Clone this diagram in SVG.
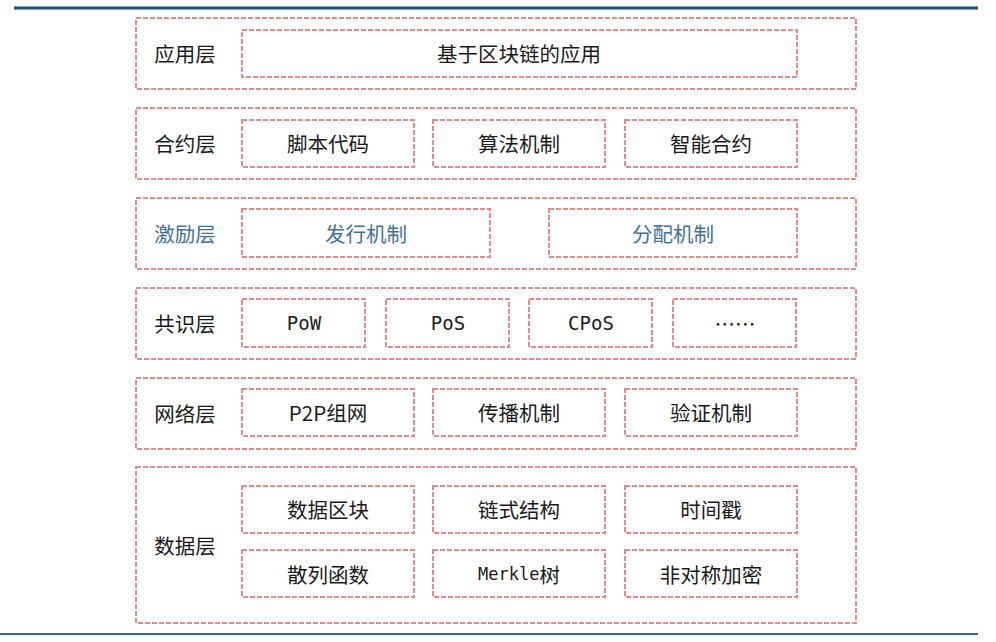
<svg xmlns="http://www.w3.org/2000/svg" width="996" height="642" viewBox="0 0 996 642">
<style>
.o{fill:#fff;stroke:#e88a8a;stroke-width:2;stroke-dasharray:5 2}
.i{fill:#fff;stroke:#e88a8a;stroke-width:2;stroke-dasharray:5 2}
text{font-family:"Noto Sans CJK SC","Noto Sans",sans-serif;font-size:20.5px;fill:#1a1a1a;text-anchor:middle;dominant-baseline:central}
.b{fill:#41719c}
.m{font-family:"DejaVu Sans Mono","Noto Sans CJK SC",monospace;font-size:17px}
.n{font-family:"DejaVu Sans Mono","Noto Sans CJK SC",monospace;font-size:19px}
</style>
<rect width="996" height="642" fill="#fff"/>
<line x1="14" y1="8" x2="978" y2="8" stroke="#1f4e79" stroke-width="3"/>
<line x1="0" y1="634" x2="978" y2="634" stroke="#2e6aa0" stroke-width="2"/>
<g id="app">
<rect class="o" x="136" y="18" width="720" height="71"/>
<text x="185" y="53">应用层</text>
<rect class="i" x="242" y="30" width="555" height="47"/>
<text x="519" y="53">基于区块链的应用</text>
</g>
<g id="contract">
<rect class="o" x="136" y="108" width="720" height="71"/>
<text x="185" y="143">合约层</text>
<rect class="i" x="242" y="120" width="172" height="47"/><text x="328" y="143">脚本代码</text>
<rect class="i" x="433" y="120" width="172" height="47"/><text x="519" y="143">算法机制</text>
<rect class="i" x="625" y="120" width="172" height="47"/><text x="711" y="143">智能合约</text>
</g>
<g id="incentive">
<rect class="o" x="136" y="198" width="720" height="71"/>
<text class="b" x="185" y="233">激励层</text>
<rect class="i" x="242" y="209" width="248" height="48"/><text class="b" x="366" y="233">发行机制</text>
<rect class="i" x="549" y="209" width="248" height="48"/><text class="b" x="673" y="233">分配机制</text>
</g>
<g id="consensus">
<rect class="o" x="136" y="288" width="720" height="71"/>
<text x="185" y="323">共识层</text>
<rect class="i" x="242" y="299" width="123" height="48"/><text class="n" x="304" y="323">PoW</text>
<rect class="i" x="386" y="299" width="123" height="48"/><text class="n" x="448" y="323">PoS</text>
<rect class="i" x="529" y="299" width="123" height="48"/><text class="n" x="591" y="323">CPoS</text>
<rect class="i" x="673" y="299" width="123" height="48"/><text x="735" y="323">……</text>
</g>
<g id="network">
<rect class="o" x="136" y="378" width="720" height="71"/>
<text x="185" y="413">网络层</text>
<rect class="i" x="242" y="389" width="172" height="47"/><text x="328" y="412">P2P组网</text>
<rect class="i" x="433" y="389" width="172" height="47"/><text x="519" y="412">传播机制</text>
<rect class="i" x="625" y="389" width="172" height="47"/><text x="711" y="412">验证机制</text>
</g>
<g id="data">
<rect class="o" x="136" y="467" width="720" height="156"/>
<text x="185" y="545">数据层</text>
<rect class="i" x="242" y="486" width="172" height="47"/><text x="328" y="509">数据区块</text>
<rect class="i" x="433" y="486" width="172" height="47"/><text x="519" y="509">链式结构</text>
<rect class="i" x="625" y="486" width="172" height="47"/><text x="711" y="509">时间戳</text>
<rect class="i" x="242" y="550" width="172" height="47"/><text x="328" y="574">散列函数</text>
<rect class="i" x="433" y="550" width="172" height="47"/><text x="519" y="574"><tspan class="m">Merkle</tspan>树</text>
<rect class="i" x="625" y="550" width="172" height="47"/><text x="711" y="574">非对称加密</text>
</g>
<g id="connectors"></g>
</svg>
